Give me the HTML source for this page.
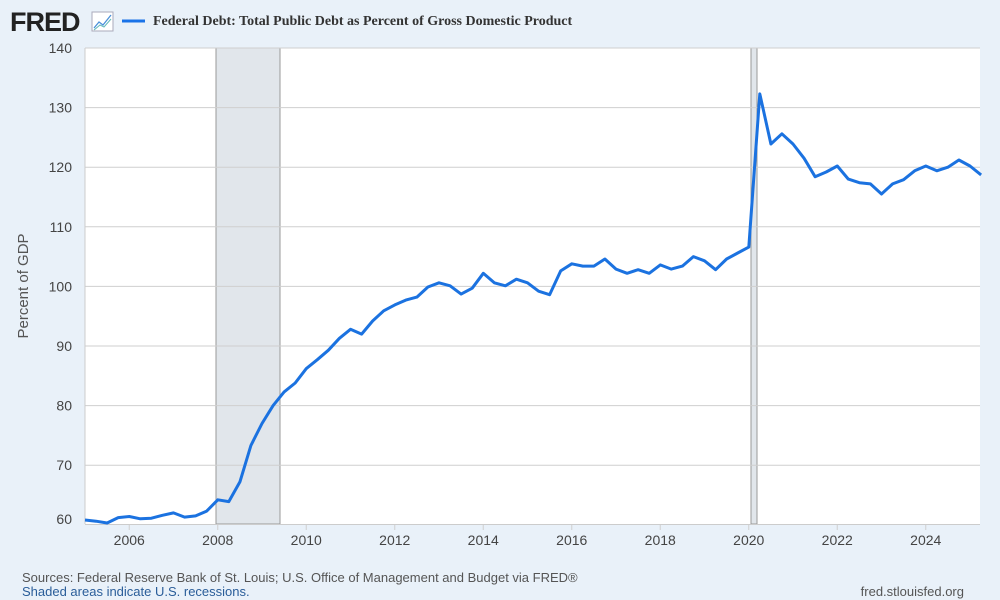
<!DOCTYPE html>
<html><head><meta charset="utf-8"><style>
html,body{margin:0;padding:0;background:#e8f0f8;width:1000px;height:600px;overflow:hidden;font-family:"Liberation Sans",sans-serif}
</style></head><body>
<svg width="1000" height="600" xmlns="http://www.w3.org/2000/svg" id="s">
<rect x="0" y="0" width="1000" height="600" fill="#e9f1f9"/>
<text x="10" y="31" font-family="Liberation Sans" font-weight="bold" font-size="27" fill="#222" letter-spacing="-1">FRED</text>
<rect x="92" y="12" width="21" height="19" fill="#fff" stroke="#aab" stroke-width="1"/>
<polyline points="94,28 99,22 103,25 111,15" fill="none" stroke="#4a90d9" stroke-width="1.3"/>
<polyline points="94,30 100,25 104,27 111,19" fill="none" stroke="#6bb" stroke-width="1.1"/>
<line x1="122" y1="21" x2="145" y2="21" stroke="#1a73e8" stroke-width="3"/>
<text x="153" y="25" font-family="Liberation Serif" font-weight="bold" font-size="14" fill="#333">Federal Debt: Total Public Debt as Percent of Gross Domestic Product</text>
<rect x="85" y="48" width="895" height="476" fill="#fff"/>
<rect x="216" y="48" width="64" height="476" fill="#e1e6eb" stroke="#999" stroke-width="1"/>
<rect x="751" y="48" width="6" height="476" fill="#e1e6eb" stroke="#999" stroke-width="1"/>
<g id="grid" stroke="#cfcfcf" stroke-width="1"></g>
<line x1="85" y1="48" x2="85" y2="524" stroke="#ccc"/>
<line x1="85" y1="524.5" x2="980" y2="524.5" stroke="#ccc"/>
<g id="lbl" font-family="Liberation Sans" font-size="14" fill="#444"></g>
<text transform="translate(28,286) rotate(-90)" text-anchor="middle" font-family="Liberation Sans" font-size="15" fill="#555">Percent of GDP</text>
<polyline id="ln" fill="none" stroke="#1b72e0" stroke-width="3" stroke-linejoin="round"/>
<text x="22" y="582" font-family="Liberation Sans" font-size="13" fill="#555">Sources: Federal Reserve Bank of St. Louis; U.S. Office of Management and Budget via FRED®</text>
<text x="22" y="596" font-family="Liberation Sans" font-size="13" fill="#2a5d99">Shaded areas indicate U.S. recessions.</text>
<text x="964" y="596" text-anchor="end" font-family="Liberation Sans" font-size="13" fill="#555">fred.stlouisfed.org</text>
</svg>
<script>
var ns="http://www.w3.org/2000/svg";
function Y(v){return 48+(140-v)*5.96}
function X(t){return 85+(t-2005)*44.25}
var g=document.getElementById("grid"),l=document.getElementById("lbl");
function el(p,tag,a,txt){var e=document.createElementNS(ns,tag);for(var k in a)e.setAttribute(k,a[k]);if(txt)e.textContent=txt;p.appendChild(e);}
for(var v=70;v<=140;v+=10){el(g,"line",{x1:85,x2:980,y1:Y(v),y2:Y(v)});}
for(var v=60;v<=140;v+=10){el(l,"text",{x:72,y:(v==60?524:Y(v)+5),"text-anchor":"end"},""+v);}
for(var yr=2006;yr<=2024;yr+=2){el(g,"line",{x1:X(yr),x2:X(yr),y1:524,y2:530});el(l,"text",{x:X(yr),y:545,"text-anchor":"middle"},""+yr);}
var d=[60.8,60.6,60.3,61.2,61.4,61.0,61.1,61.6,62.0,61.3,61.5,62.3,64.2,63.9,67.2,73.3,77,80,82.3,83.8,86.2,87.7,89.3,91.3,92.8,92,94.2,95.9,96.9,97.7,98.2,99.9,100.6,100.1,98.7,99.7,102.2,100.6,100.1,101.2,100.6,99.2,98.6,102.6,103.8,103.4,103.4,104.6,102.9,102.2,102.8,102.2,103.6,102.9,103.4,105,104.3,102.8,104.6,105.6,106.6,132.3,123.9,125.6,123.9,121.5,118.4,119.2,120.2,118,117.4,117.2,115.5,117.2,117.9,119.4,120.2,119.4,120.0,121.2,120.2,118.7];
var p=[];for(var i=0;i<d.length;i++){p.push(X(2005+i*0.25).toFixed(1)+","+Y(d[i]).toFixed(1));}
document.getElementById("ln").setAttribute("points",p.join(" "));
</script>
</body></html>
